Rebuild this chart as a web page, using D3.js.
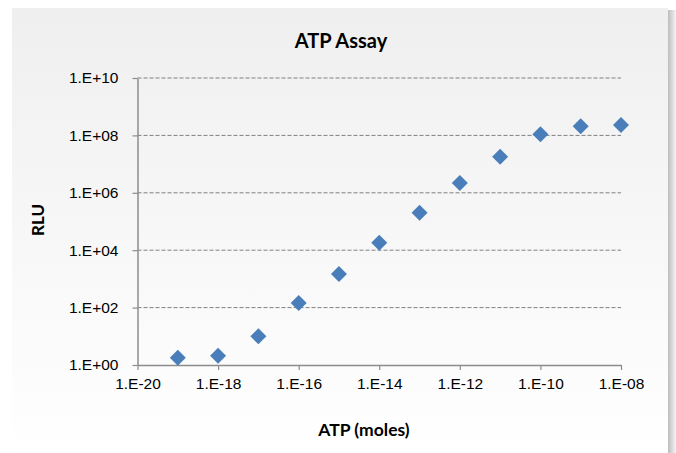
<!DOCTYPE html>
<html>
<head>
<meta charset="utf-8">
<script src="https://cdn.jsdelivr.net/npm/d3@7.9.0/dist/d3.min.js"></script>
<style>
  body { margin: 0; background: #fff; }
  svg { display: block; font-family: Lato, "Open Sans", sans-serif; }
</style>
</head>
<body>
<div id="chart"></div>
<script>
// ATP amount (moles) and measured light (RLU)
const atpMoles = [1e-19, 1e-18, 1e-17, 1e-16, 1e-15, 1e-14, 1e-13, 1e-12, 1e-11, 1e-10, 1e-9, 1e-8];
const rlu = [1.8, 2.1, 10, 145, 1480, 1.8e4, 2.0e5, 2.2e6, 1.8e7, 1.1e8, 2.1e8, 2.3e8];
const xTicks = [1e-20, 1e-18, 1e-16, 1e-14, 1e-12, 1e-10, 1e-8];
const yTicks = [1e0, 1e2, 1e4, 1e6, 1e8, 1e10];

const width = 676, height = 453;
const plot = { left: 137.5, right: 621, top: 78, bottom: 365 };

const svg = d3.select('#chart').append('svg')
  .attr('width', width).attr('height', height);

// background panel with soft gradient + right shadow
const defs = svg.append('defs');
const grad = defs.append('linearGradient').attr('id', 'bg').attr('x1', 0).attr('y1', 0).attr('x2', 0).attr('y2', 1);
grad.append('stop').attr('offset', '0%').attr('stop-color', '#efefef');
grad.append('stop').attr('offset', '100%').attr('stop-color', '#ffffff');
const shadow = defs.append('linearGradient').attr('id', 'shadow').attr('x1', 0).attr('x2', 1);
shadow.append('stop').attr('offset', '0%').attr('stop-color', '#bdbdbd');
shadow.append('stop').attr('offset', '100%').attr('stop-color', '#f4f4f4');

svg.append('rect').attr('x', 668).attr('y', 10).attr('width', 8).attr('height', height - 10)
  .attr('fill', 'url(#shadow)');
svg.append('rect').attr('x', 12).attr('y', 8).attr('width', 656).attr('height', height - 8)
  .attr('fill', 'url(#bg)');

const x = d3.scaleLog().domain([1e-20, 1e-8]).range([plot.left, plot.right]);
const y = d3.scaleLog().domain([1, 1e10]).range([plot.bottom, plot.top]);

// dashed gridlines
svg.append('g')
  .selectAll('line')
  .data(yTicks.slice(1))
  .join('line')
  .attr('x1', plot.left).attr('x2', plot.right)
  .attr('y1', d => y(d)).attr('y2', d => y(d))
  .attr('stroke', '#808080')
  .attr('stroke-dasharray', '4,2')
  .attr('stroke-width', 1);

const fmtX = d => '1.E-' + String(Math.round(-Math.log10(d))).padStart(2, '0');
const fmtY = d => '1.E+' + String(Math.round(Math.log10(d))).padStart(2, '0');

const xAxis = svg.append('g')
  .attr('transform', `translate(0,${plot.bottom})`)
  .call(d3.axisBottom(x).tickValues(xTicks).tickFormat(fmtX).tickSize(5).tickSizeOuter(0));
const yAxis = svg.append('g')
  .attr('transform', `translate(${plot.left},0)`)
  .call(d3.axisLeft(y).tickValues(yTicks).tickFormat(fmtY).tickSize(5).tickSizeOuter(0));

[xAxis, yAxis].forEach(g => {
  g.select('.domain').attr('stroke', '#8c8c8c').attr('stroke-width', 1.5);
  g.selectAll('.tick line').attr('stroke', '#8c8c8c').attr('stroke-width', 1.2);
  g.selectAll('.tick text').attr('fill', '#000').style('font-size', '15.5px');
});
xAxis.selectAll('.tick text').attr('dy', '0.95em').attr('y', 9);
yAxis.selectAll('.tick text').attr('x', -19);

// diamonds
svg.append('g')
  .selectAll('path')
  .data(atpMoles.map((m, i) => [m, rlu[i]]))
  .join('path')
  .attr('d', d3.symbol(d3.symbolSquare, 128))
  .attr('transform', d => `translate(${x(d[0])},${y(d[1])}) rotate(45)`)
  .attr('fill', '#4a7ebb');

// titles
svg.append('text').attr('x', 341).attr('y', 48).attr('text-anchor', 'middle')
  .style('font-size', '20px').style('font-weight', 'bold').text('ATP Assay');
svg.append('text').attr('x', 364).attr('y', 436).attr('text-anchor', 'middle')
  .style('font-size', '17.5px').style('font-weight', 'bold').text('ATP (moles)');
svg.append('text').attr('transform', 'translate(44,220) rotate(-90)').attr('text-anchor', 'middle')
  .style('font-size', '17px').style('font-weight', 'bold').text('RLU');
</script>
</body>
</html>
